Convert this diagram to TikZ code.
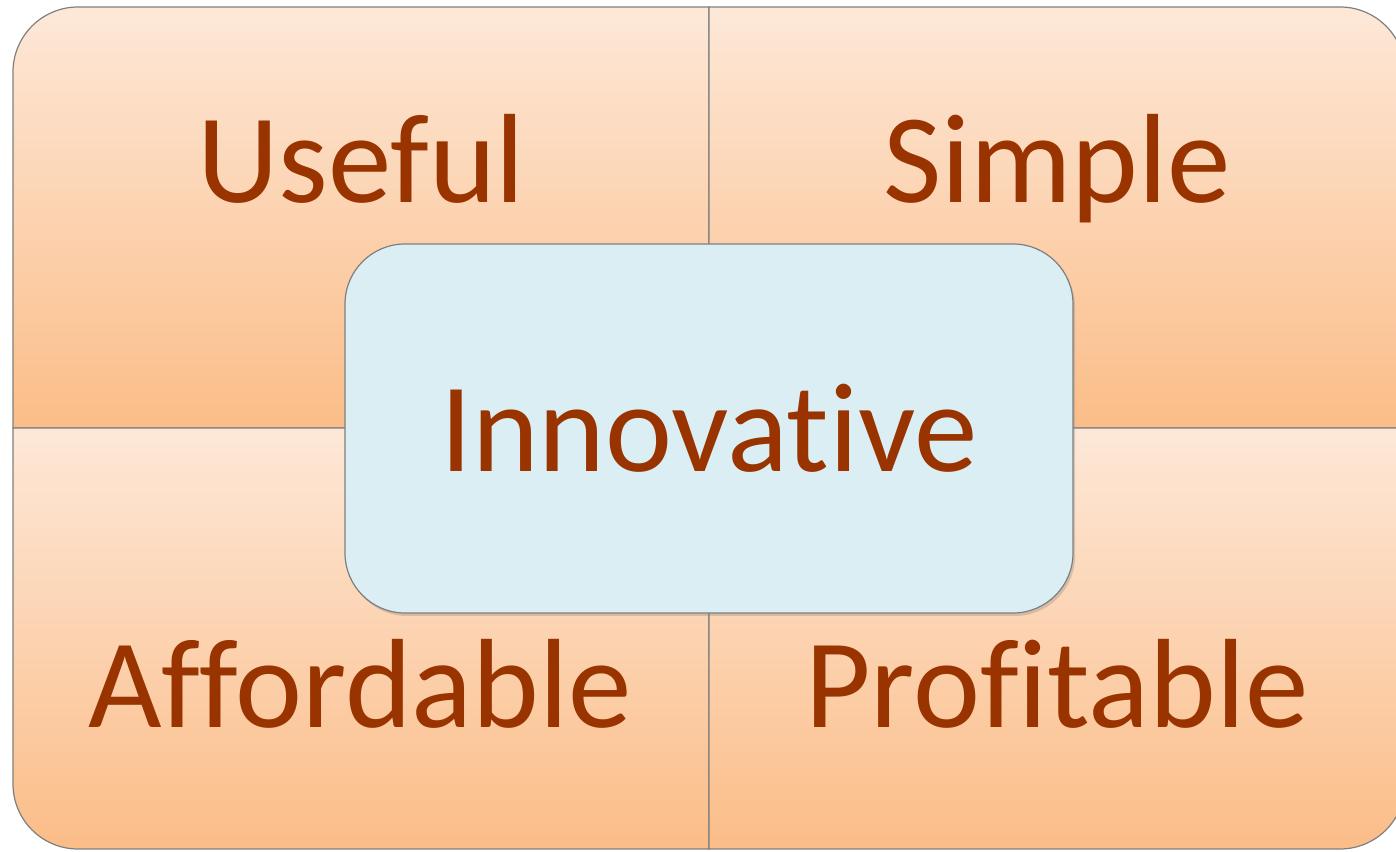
\documentclass[tikz,border=0pt]{standalone}
\usepackage{fontspec}
\setmainfont{Carlito}[Ligatures={NoCommon,NoRare,NoContextual}]
\usetikzlibrary{shadows}
\definecolor{peachtop}{HTML}{FDE8D8}
\definecolor{peachbot}{HTML}{FBBD88}
\definecolor{iceblue}{HTML}{DAEEF3}
\definecolor{rust}{HTML}{993300}
\definecolor{edgegray}{HTML}{7F7F7F}
\begin{document}
\begin{tikzpicture}[x=1pt,y=1pt,font=\fontsize{127}{150}\selectfont,
  quad/.style={draw=edgegray,line width=1.2pt,top color=peachtop,bottom color=peachbot},
  word/.style={text=rust,anchor=base}]
  \useasboundingbox (0,0) rectangle (1396,851);
  \path[quad] (13,423) -- (13,779) arc[start angle=180,end angle=90,radius=65pt] -- (709,844) -- (709,423) -- cycle;
  \path[quad] (709,423) -- (709,844) -- (1340,844) arc[start angle=90,end angle=0,radius=65pt] -- (1405,423) -- cycle;
  \path[quad] (13,423) -- (13,67) arc[start angle=180,end angle=270,radius=65pt] -- (709,2) -- (709,423) -- cycle;
  \path[quad] (709,423) -- (709,2) -- (1340,2) arc[start angle=270,end angle=360,radius=65pt] -- (1405,423) -- cycle;
  \node[word] (useful) at (361,648) {Useful};
  \node[word] (simple) at (1057,648) {Simple};
  \node[word] (afford) at (360,124) {Affordable};
  \node[word] (profit) at (1057,124) {Profitable};
  \node[draw=edgegray,line width=1.2pt,fill=iceblue,rounded corners=60pt,minimum width=728pt,minimum height=369pt,inner sep=0pt,text=rust,
    drop shadow={opacity=0.3,shadow xshift=2pt,shadow yshift=-3pt}] (core) at (709,422.5) {Innovative};
\end{tikzpicture}
\end{document}
